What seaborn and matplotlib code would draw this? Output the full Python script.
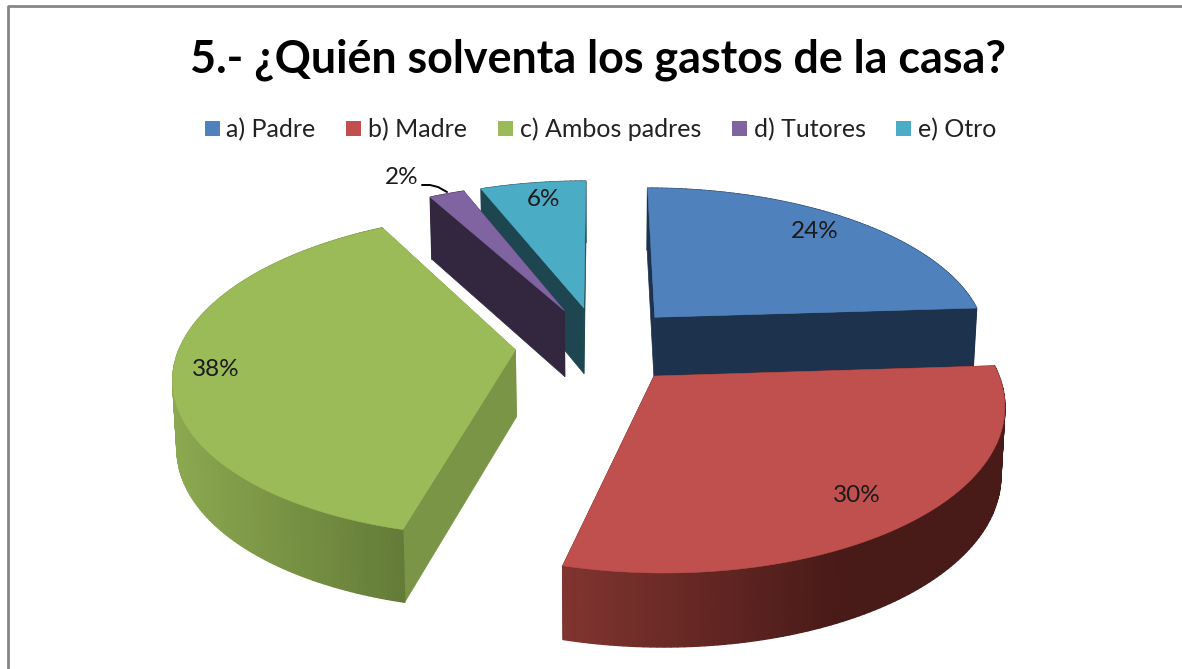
import numpy as np
import matplotlib
matplotlib.use("Agg")
import matplotlib.pyplot as plt
from matplotlib.collections import PolyCollection
from matplotlib.lines import Line2D
from matplotlib.patches import Patch
import seaborn as sns

TITLE = "5.- ¿Quién solventa los gastos de la casa?"
categories = ["a) Padre", "b) Madre", "c) Ambos padres", "d) Tutores", "e) Otro"]
shares = [24, 30, 38, 2, 6]
palette = ["#4F81BD", "#C0504D", "#9BBB59", "#8064A2", "#4BACC6"]
radial_wall = ["#1D324D", "#4A1C1A", "#7A9546", "#33263F", "#1E4650"]
outer_left = ["#1D324D", "#80342F", "#8CA850", "#33263F", "#1E4650"]
outer_right = ["#1D324D", "#481A18", "#647C38", "#33263F", "#1E4650"]
label_xy = [(815, 232), (857, 496), (216, 370), (402, 178), (544, 199)]
paint_order = [0, 4, 3, 2, 1]

sns.set_theme(style="white")
plt.rcParams["font.family"] = ["Lato", "DejaVu Sans"]

CX, CY, RX, RY, K, EXPLODE, DEPTH, CONV = 599, 345, 335, 156.5, 0.152, 0.25, 67, 0.99


def top(u, v):
    w = 1 + K * v
    return CX + RX * u / w, CY - RY * v / w


def bottom(u, v):
    x, y = top(u, v)
    return CX + (x - CX) * CONV, y + DEPTH / (1 + K * v) ** 0.5


fig = plt.figure(figsize=(11.82, 6.69), dpi=100, facecolor="white")
ax = fig.add_axes([0, 0, 1, 1])
ax.set_xlim(0, 1182)
ax.set_ylim(669, 0)
ax.axis("off")

fractions = np.array(shares, float) / sum(shares)
edges = np.concatenate([[0], np.cumsum(fractions)]) * 2 * np.pi

for i in paint_order:
    layer = 2 + paint_order.index(i) * 3
    a0, a1 = edges[i], edges[i + 1]
    mid = (a0 + a1) / 2
    ou, ov = EXPLODE * np.sin(mid), EXPLODE * np.cos(mid)
    th = np.linspace(a0, a1, max(8, int((a1 - a0) * 60)))
    us, vs = ou + np.sin(th), ov + np.cos(th)
    tx, ty = top(us, vs)
    bx, by = bottom(us, vs)
    px, py = top(ou, ov)
    qx, qy = bottom(ou, ov)
    # radial walls
    for e in (-1, 0):
        ax.fill([px, tx[e], bx[e], qx], [py, ty[e], by[e], qy],
                color=radial_wall[i], lw=0.5, zorder=layer)
    # outer wall with a left-to-right shade
    polys = [[(tx[j], ty[j]), (tx[j + 1], ty[j + 1]), (bx[j + 1], by[j + 1]), (bx[j], by[j])]
             for j in range(len(th) - 1)]
    c0 = np.array(matplotlib.colors.to_rgb(outer_left[i]))
    c1 = np.array(matplotlib.colors.to_rgb(outer_right[i]))
    xm = (tx[:-1] + tx[1:]) / 2
    if i in (1, 2):
        vis = vs[:-1] < 0.35 if i == 1 else np.ones(len(xm), bool)
        xlo, xhi = xm[vis].min(), xm[vis].max()
        t = np.clip((xm - xlo) / (xhi - xlo), 0, 1)
        if i == 1:
            t = np.clip(t * 1.6, 0, 1)
    else:
        t = np.zeros(len(xm))
    cols = [c0 * (1 - s) + c1 * s for s in t]
    ax.add_collection(PolyCollection(polys, facecolors=cols, edgecolors=cols,
                                     linewidths=1.0, zorder=layer + 1))
    ax.fill(np.r_[px, tx], np.r_[py, ty], color=palette[i], lw=0.4, zorder=layer + 2)

for (x, y), s in zip(label_xy, shares):
    ax.text(x, y, f"{s}%", ha="center", va="center", fontsize=17.5, color="#1a1a1a", zorder=30)

# leader line of the 2 % label
ax.plot([422, 430, 438, 447], [185, 185, 187, 192], color="black", lw=1.4, zorder=30)

ax.text(597.5, 60, TITLE, ha="center", va="center", fontsize=32.3, fontweight="bold",
        color="black", zorder=30)

handles = [Patch(facecolor=c, edgecolor="none") for c in palette]
ax.legend(handles, categories, loc="center", bbox_to_anchor=(600.5 / 1182, 1 - 129.5 / 669), ncol=5,
          frameon=False, fontsize=18, handlelength=0.6, handleheight=0.6, handletextpad=0.28,
          columnspacing=1.22, labelcolor="#222222")

# chart frame, cut by the picture on the right and at the bottom
fig.add_artist(Line2D([8 / 1182, 8 / 1182, 1], [0, 1 - 6 / 669, 1 - 6 / 669], color="#868686", lw=2.0))

fig.savefig("out.png", dpi=100)
